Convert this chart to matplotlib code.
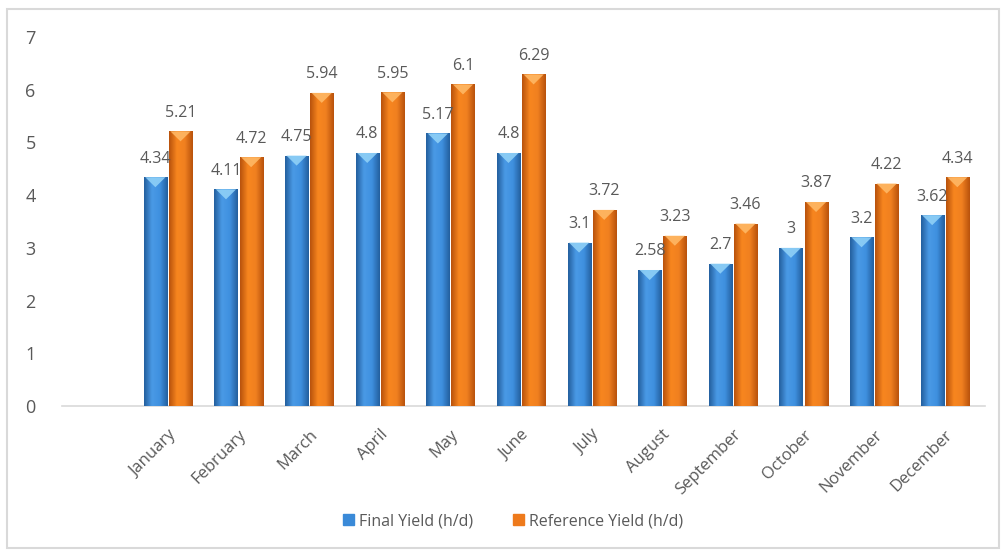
import numpy as np
import matplotlib.pyplot as plt
from matplotlib.patches import Rectangle, Polygon
from matplotlib.colors import LinearSegmentedColormap

months = ['January', 'February', 'March', 'April', 'May', 'June', 'July',
          'August', 'September', 'October', 'November', 'December']
final_yield = [4.34, 4.11, 4.75, 4.8, 5.17, 4.8, 3.1, 2.58, 2.7, 3, 3.2, 3.62]
reference_yield = [5.21, 4.72, 5.94, 5.95, 6.1, 6.29, 3.72, 3.23, 3.46, 3.87, 4.22, 4.34]
series_names = ['Final Yield (h/d)', 'Reference Yield (h/d)']

plt.rcParams['font.family'] = ['Open Sans', 'DejaVu Sans']
text_color = '#595959'

fig = plt.figure(figsize=(10.03, 5.51), dpi=100)
ax = fig.add_axes([62 / 1003, 145 / 551, 923 / 1003, 369 / 551])

x = np.arange(len(months))
w = 0.326
gap = 0.015

styles = [
    dict(base='#3a8ad8', cmap=['#235f9e', '#4a9ae6', '#3f90df', '#235f9e'], top='#8fd0f7'),
    dict(base='#ee7a1c', cmap=['#b8520c', '#f8861f', '#f08020', '#b8520c'], top='#ffb865'),
]

def draw_series(xs, vals, st, label):
    bars = ax.bar(xs, vals, width=w, color=st['base'], edgecolor='none', label=label, zorder=2)
    cmap = LinearSegmentedColormap.from_list('g', st['cmap'])
    grad = np.linspace(0, 1, 64).reshape(1, -1)
    for b, v in zip(bars, vals):
        x0 = b.get_x()
        im = ax.imshow(grad, cmap=cmap, aspect='auto', extent=[x0, x0 + w, 0, v],
                       zorder=3, interpolation='bicubic')
        im.set_clip_path(b)
        # bevel triangle on top of bar
        h = 0.19
        tri = Polygon([[x0 + 0.02, v], [x0 + w - 0.02, v], [x0 + w / 2, v - h]],
                      closed=True, facecolor=st['top'], edgecolor='none', zorder=4, alpha=0.9)
        ax.add_patch(tri)
        ax.text(x0 + w / 2, v + 0.2, '{:g}'.format(v), ha='center', va='bottom',
                fontsize=11.5, color=text_color, zorder=5)
    return bars

draw_series(x - w / 2 - gap, final_yield, styles[0], series_names[0])
draw_series(x + w / 2 + gap, reference_yield, styles[1], series_names[1])

ax.set_xlim(-1.5, 11.57)
ax.set_ylim(0, 7)
ax.set_yticks(range(0, 8))
ax.set_xticks(x)
ax.set_xticklabels(months, rotation=45, ha='right', rotation_mode='anchor', fontsize=12,
                   color=text_color)
ax.tick_params(axis='y', length=0, labelsize=13, labelcolor=text_color, pad=19)
ax.tick_params(axis='x', length=0, pad=15)
for s in ['left', 'right', 'top']:
    ax.spines[s].set_visible(False)
ax.spines['bottom'].set_color('#d9d9d9')
ax.spines['bottom'].set_linewidth(1.2)
ax.spines['bottom'].set_zorder(1)
ax.set_facecolor('none')

leg = fig.legend(handles=[Rectangle((0, 0), 1, 1, color=styles[0]['base']),
                          Rectangle((0, 0), 1, 1, color=styles[1]['base'])],
                 labels=series_names, loc='center', bbox_to_anchor=(513 / 1003, 1 - 521 / 551),
                 ncol=2, frameon=False, fontsize=11.5, handlelength=0.7, handleheight=0.7,
                 columnspacing=2.5, handletextpad=0.3)
for t in leg.get_texts():
    t.set_color(text_color)

fig.patches.append(Rectangle((7 / 1003, 3 / 551), 992 / 1003, 539 / 551, transform=fig.transFigure,
                             fill=False, edgecolor='#d9d9d9', linewidth=1.5))

fig.savefig('out.png', dpi=100)
